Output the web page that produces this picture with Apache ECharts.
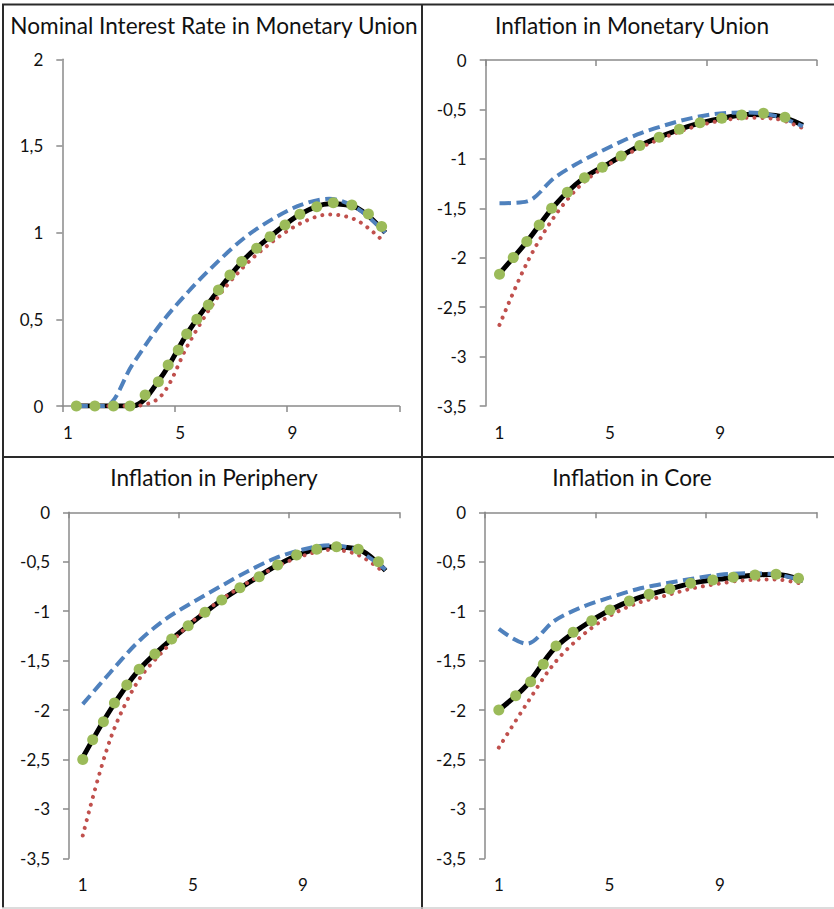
<!DOCTYPE html>
<html>
<head>
<meta charset="utf-8">
<script src="https://cdn.jsdelivr.net/npm/echarts@6/dist/echarts.min.js"></script>
<style>
html,body{margin:0;padding:0;background:#fff;}
#chart{width:834px;height:909px;}
</style>
</head>
<body>
<div id="chart"></div>
<script>
// ---------------- DATA ----------------
const categories = ['1','2','3','4','5','6','7','8','9','10','11','12'];
const titles = ['Nominal Interest Rate in Monetary Union', 'Inflation in Monetary Union', 'Inflation in Periphery', 'Inflation in Core'];
const rateRange = [0, 2];
const inflationRange = [-3.5, 0];
const yStep = 0.5;
const xLabelEvery = 4;

// Panel 1: Nominal interest rate in monetary union
const rateBlue  = [0, 0, 0.24, 0.473, 0.662, 0.827, 0.972, 1.08, 1.16, 1.195, 1.14, 1.0];
const rateRed   = [0, 0, 0, 0.055, 0.36, 0.62, 0.81, 0.95, 1.055, 1.105, 1.07, 0.94];
const rateBlack = [0, 0, 0, 0.162, 0.432, 0.655, 0.849, 0.99, 1.109, 1.167, 1.143, 1.0];
const rateGreenX = [1.0, 1.66, 2.32, 2.91, 3.45, 3.92, 4.27, 4.63, 4.93, 5.29, 5.70, 6.06, 6.47, 6.89, 7.42, 7.90, 8.43, 8.96, 9.56, 10.15, 10.81, 11.40, 11.87];
const rateGreenY = [0, 0, 0, 0, 0.063, 0.14, 0.237, 0.323, 0.415, 0.50, 0.583, 0.669, 0.756, 0.833, 0.91, 0.977, 1.044, 1.106, 1.15, 1.173, 1.16, 1.108, 1.035];

// Panel 2: Inflation in monetary union
const unionBlue  = [-1.45, -1.43, -1.19, -1.02, -0.88, -0.753, -0.66, -0.585, -0.54, -0.53, -0.565, -0.67];
const unionRed   = [-2.68, -2.05, -1.58, -1.25, -1.05, -0.90, -0.78, -0.68, -0.615, -0.585, -0.595, -0.69];
const unionBlack = [-2.16, -1.834, -1.47, -1.205, -1.04, -0.88, -0.758, -0.658, -0.593, -0.551, -0.562, -0.66];
const unionGreenX = [1.0, 1.50, 1.99, 2.44, 2.89, 3.46, 4.08, 4.73, 5.41, 6.09, 6.79, 7.52, 8.27, 9.06, 9.78, 10.57, 11.35];
const unionGreenY = [-2.167, -1.999, -1.837, -1.668, -1.50, -1.338, -1.19, -1.085, -0.971, -0.866, -0.782, -0.70, -0.634, -0.59, -0.556, -0.539, -0.58];

// Panel 3: Inflation in periphery
const periBlue  = [-1.94, -1.62, -1.314, -1.082, -0.91, -0.75, -0.596, -0.464, -0.376, -0.332, -0.39, -0.58];
const periRed   = [-3.27, -2.295, -1.71, -1.38, -1.10, -0.89, -0.71, -0.555, -0.44, -0.38, -0.43, -0.62];
const periBlack = [-2.48, -2.0, -1.606, -1.338, -1.11, -0.897, -0.717, -0.546, -0.414, -0.352, -0.374, -0.59];
const periGreenX = [1.0, 1.36, 1.75, 2.15, 2.60, 3.05, 3.62, 4.23, 4.83, 5.44, 6.05, 6.71, 7.41, 8.08, 8.77, 9.50, 10.22, 11.01, 11.74];
const periGreenY = [-2.50, -2.30, -2.118, -1.93, -1.747, -1.588, -1.433, -1.281, -1.147, -1.012, -0.887, -0.763, -0.651, -0.533, -0.432, -0.374, -0.348, -0.374, -0.50];

// Panel 4: Inflation in core
const coreBlue  = [-1.18, -1.33, -1.10, -0.96, -0.864, -0.778, -0.72, -0.672, -0.632, -0.617, -0.627, -0.69];
const coreRed   = [-2.38, -1.94, -1.53, -1.25, -1.05, -0.92, -0.845, -0.77, -0.72, -0.685, -0.68, -0.725];
const coreBlack = [-2.0, -1.752, -1.38, -1.16, -0.99, -0.87, -0.79, -0.716, -0.676, -0.642, -0.627, -0.69];
const coreGreenX = [1.0, 1.61, 2.15, 2.61, 3.07, 3.69, 4.36, 5.02, 5.72, 6.44, 7.19, 7.94, 8.74, 9.48, 10.27, 11.03, 11.84];
const coreGreenY = [-2.0, -1.855, -1.713, -1.538, -1.352, -1.214, -1.096, -0.988, -0.897, -0.83, -0.776, -0.718, -0.685, -0.658, -0.634, -0.627, -0.668];

// ---------------- LAYOUT / STYLE ----------------
const FONT = 'Lato, "Liberation Sans", sans-serif';
const AXIS_GRAY = '#8a8a8a';
const LABEL_COLOR = '#111';
const panels = [
  {title: titles[0], range: rateRange, blue: rateBlue, red: rateRed, black: rateBlack, gx: rateGreenX, gy: rateGreenY,
   grid: {left: 62.3, top: 59.3, width: 337, height: 346.7}, titleAt: [214, 25], axisTop: false, labelPad: [0, 17, 0, 0]},
  {title: titles[1], range: inflationRange, blue: unionBlue, red: unionRed, black: unionBlack, gx: unionGreenX, gy: unionGreenY,
   grid: {left: 485.7, top: 60, width: 331, height: 346}, titleAt: [632, 25], axisTop: true, labelPad: 0},
  {title: titles[2], range: inflationRange, blue: periBlue, red: periRed, black: periBlack, gx: periGreenX, gy: periGreenY,
   grid: {left: 69, top: 512.3, width: 330.3, height: 346}, titleAt: [214, 477], axisTop: true, labelPad: 0},
  {title: titles[3], range: inflationRange, blue: coreBlue, red: coreRed, black: coreBlack, gx: coreGreenX, gy: coreGreenY,
   grid: {left: 485, top: 512.3, width: 331.7, height: 346}, titleAt: [632, 477], axisTop: true, labelPad: 0}
];

const fmt = v => String(v).replace('.', ',');
const axisLineStyle = {color: AXIS_GRAY, width: 1.5};

const grids = [], xAxes = [], yAxes = [], series = [];
panels.forEach((p, i) => {
  grids.push(Object.assign({containLabel: false}, p.grid));
  const labelAxis = xAxes.length;
  xAxes.push({
    type: 'category', gridIndex: i, data: categories, position: 'bottom', boundaryGap: true,
    axisLine: {show: !p.axisTop, onZero: false, lineStyle: axisLineStyle},
    axisTick: {show: !p.axisTop, interval: xLabelEvery - 1, length: 6, lineStyle: axisLineStyle},
    axisLabel: {interval: xLabelEvery - 1, margin: 18, color: LABEL_COLOR, fontSize: 17, fontFamily: FONT, padding: p.labelPad},
    splitLine: {show: false}
  });
  if (p.axisTop) {
    xAxes.push({
      type: 'category', gridIndex: i, data: categories, position: 'top', boundaryGap: true,
      axisLine: {show: true, onZero: false, lineStyle: axisLineStyle},
      axisTick: {show: true, inside: true, interval: xLabelEvery - 1, length: 6, lineStyle: axisLineStyle},
      axisLabel: {show: false}, splitLine: {show: false}
    });
  }
  const valueAxis = xAxes.length;
  xAxes.push({type: 'value', gridIndex: i, min: 0.5, max: 12.5, show: false});
  yAxes.push({
    type: 'value', gridIndex: i, min: p.range[0], max: p.range[1], interval: yStep,
    axisLine: {show: true, onZero: false, lineStyle: axisLineStyle},
    axisTick: {show: true, length: 6, lineStyle: axisLineStyle},
    splitLine: {show: false},
    axisLabel: {margin: 19, color: LABEL_COLOR, fontSize: 17, fontFamily: FONT, formatter: fmt}
  });
  const common = {type: 'line', xAxisIndex: labelAxis, yAxisIndex: i, smooth: 0.33, symbol: 'none', animation: false, silent: true};
  series.push(Object.assign({}, common, {name: 'black' + i, data: p.black, z: 2,
    lineStyle: {color: '#000', width: 5}}));
  series.push(Object.assign({}, common, {name: 'red' + i, data: p.red, z: 3,
    lineStyle: {color: '#C0504D', width: 4, type: [0.01, 8], cap: 'round'}}));
  series.push(Object.assign({}, common, {name: 'blue' + i, data: p.blue, z: 4,
    lineStyle: {color: '#4F81BD', width: 4, type: [11.5, 5.5], cap: 'butt'}}));
  series.push({type: 'scatter', name: 'green' + i, xAxisIndex: valueAxis, yAxisIndex: i, animation: false, silent: true, z: 10,
    data: p.gx.map((x, k) => [x, p.gy[k]]), symbol: 'circle', symbolSize: 11,
    itemStyle: {color: '#9BBB59', opacity: 1}});
});

const graphic = [];
panels.forEach(p => {
  graphic.push({type: 'text', x: p.titleAt[0], y: p.titleAt[1], silent: true,
    style: {text: p.title, font: '22.6px ' + FONT, fill: '#111', align: 'center', verticalAlign: 'middle', textAlign: 'center', textVerticalAlign: 'middle'}});
});
const border = (x1, y1, x2, y2, c, w) => ({type: 'line', silent: true, shape: {x1, y1, x2, y2}, style: {stroke: c, lineWidth: w}});
graphic.push(border(2, 4.5, 834, 4.5, '#2a2a2a', 2));
graphic.push(border(3, 4, 3, 908, '#2a2a2a', 2));
graphic.push(border(422, 4, 422, 909, '#2a2a2a', 2));
graphic.push(border(2, 457, 834, 457, '#2a2a2a', 2));
graphic.push(border(2, 908, 834, 908, '#d0d0d0', 1.5));

const chart = echarts.init(document.getElementById('chart'), null, {renderer: 'svg'});
chart.setOption({
  backgroundColor: '#fff',
  animation: false,
  grid: grids,
  xAxis: xAxes,
  yAxis: yAxes,
  series: series,
  graphic: graphic
});
</script>
</body>
</html>
